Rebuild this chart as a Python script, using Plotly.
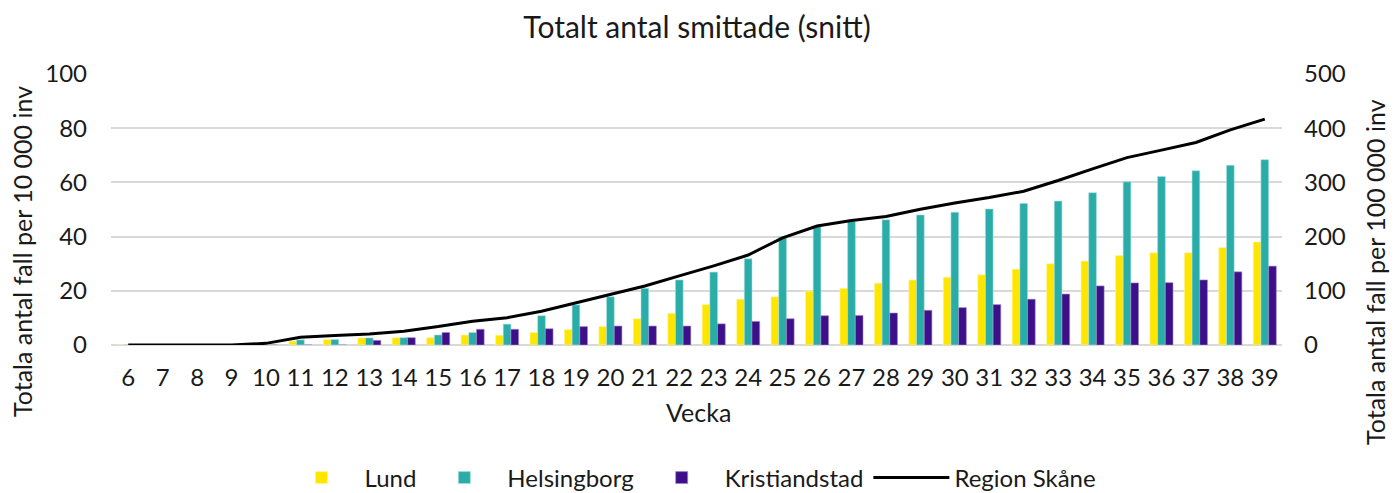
import plotly.graph_objects as go

weeks = [str(w) for w in range(6, 40)]
lund = [0, 0, 0, 0, 0, 1.4, 2, 2.6, 2.7, 2.7, 3.7, 3.6, 4.6, 5.7, 6.8, 9.7, 11.7, 14.9, 16.9, 17.8,
        19.9, 20.9, 22.8, 24, 25, 25.9, 28, 30, 31, 33, 34, 34, 36, 38]
helsingborg = [0, 0, 0, 0, 0, 1.9, 2, 2.6, 2.7, 3.7, 4.6, 7.7, 10.8, 14.8, 17.8, 20.9, 24, 26.9, 31.8, 39.9,
               43.7, 45.6, 46.2, 48, 49, 50.2, 52.2, 53.1, 56.2, 60.2, 62.2, 64.3, 66.3, 68.4]
kristianstad = [0, 0, 0, 0, 0, 0, 0, 1.7, 2.7, 4.6, 5.8, 5.8, 6, 6.8, 7, 7, 7, 7.8, 8.7, 9.7,
                10.8, 10.9, 11.8, 12.8, 13.8, 14.9, 16.9, 18.8, 21.8, 22.9, 23, 24, 27, 29.1]
region = [0, 0, 0, 0, 3, 14.3, 17.4, 20.5, 25.5, 34, 44, 50.4, 62.2, 77.7, 92, 108.8, 127.5, 146, 166, 197.8,
          219.5, 229.5, 237, 250.6, 262, 272, 283.6, 303.5, 325, 345.8, 359.5, 373.7, 396.8, 416.8]

title_text = "Totalt antal smittade (snitt)"
x_title = "Vecka"
y_title = "Totala antal fall per 10 000 inv"
y2_title = "Totala antal fall per 100 000 inv"

FONT = "Lato"
TXT = "#1a1a1a"
# page body has an 8px margin: figure origin sits at (8, 8) of the window
W, H = 1392, 485
L, R, T, B = 103, 118, 66, 148
PW, PH = W - L - R, H - T - B


def px_x(x):  # window x -> paper x
    return (x - 8 - L) / PW


def px_y(y):  # window y -> paper y
    return (H - B - (y - 8)) / PH


fig = go.Figure()
fig.add_trace(go.Bar(x=weeks, y=lund, name="Lund",
                     marker=dict(color="#FFE600", line=dict(color="#FFF6A0", width=0.6))))
fig.add_trace(go.Bar(x=weeks, y=helsingborg, name="Helsingborg",
                     marker=dict(color="#2AACA8", line=dict(color="#A8DEDC", width=0.6))))
fig.add_trace(go.Bar(x=weeks, y=kristianstad, name="Kristiandstad",
                     marker=dict(color="#3D108A", line=dict(color="#9E88C5", width=0.6))))
fig.add_trace(go.Scatter(x=weeks, y=region, name="Region Skåne", mode="lines", yaxis="y2",
                         line=dict(color="black", width=3)))

fig.update_layout(
    width=W, height=H,
    margin=dict(l=L, r=R, t=T, b=B, autoexpand=False),
    paper_bgcolor="white", plot_bgcolor="white",
    font=dict(family=FONT, size=24, color=TXT),
    title=dict(text=title_text, x=(697 - 8) / W, xanchor="center",
               y=1 - (27 - 8) / H, yref="container", yanchor="middle", font=dict(size=30)),
    barmode="group", bargap=0.33, bargroupgap=0,
    xaxis=dict(tickfont=dict(size=24), showgrid=False, showline=False, ticks="",
               ticklabelstandoff=16, automargin=False),
    yaxis=dict(range=[0, 100], dtick=20,
               showgrid=True, gridcolor="#d9d9d9", gridwidth=1.5, zeroline=True, zerolinecolor="#d9d9d9",
               zerolinewidth=1.5, ticks="", tickfont=dict(size=24), ticklabelstandoff=23, automargin=False),
    yaxis2=dict(range=[0, 500], dtick=100,
                overlaying="y", side="right", showgrid=False, zeroline=False, ticks="",
                tickfont=dict(size=24), ticklabelstandoff=21, automargin=False),
    legend=dict(orientation="h", x=px_x(690), xanchor="center", y=px_y(478), yanchor="middle",
                font=dict(size=24), traceorder="normal", itemwidth=76),
    annotations=[
        dict(text=x_title, xref="paper", yref="paper", x=px_x(698), y=px_y(412),
             xanchor="center", yanchor="middle", showarrow=False, font=dict(size=25)),
        dict(text=y_title, xref="paper", yref="paper", x=px_x(22), y=px_y(252),
             xanchor="center", yanchor="middle", showarrow=False, textangle=-90, font=dict(size=25)),
        dict(text=y2_title, xref="paper", yref="paper", x=px_x(1375), y=px_y(272),
             xanchor="center", yanchor="middle", showarrow=False, textangle=-90, font=dict(size=25)),
    ],
)

fig.write_html("out.html")
